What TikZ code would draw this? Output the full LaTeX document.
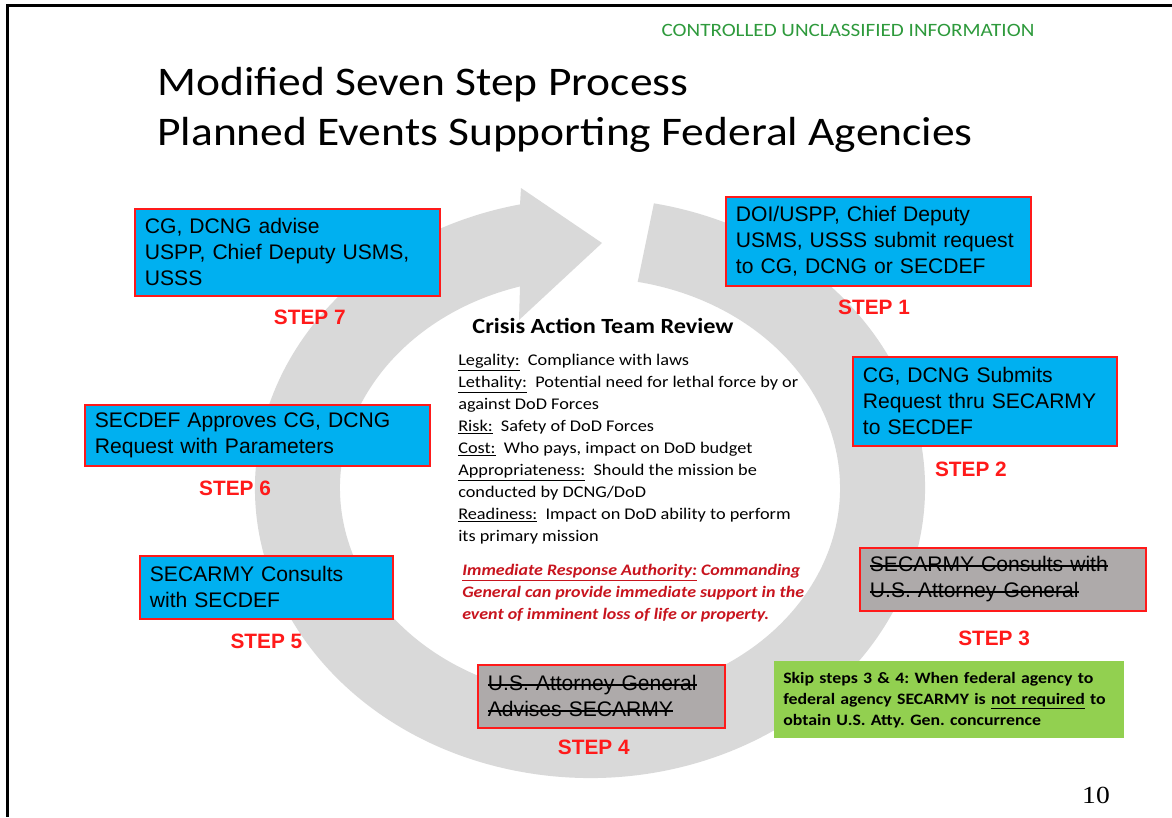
\documentclass[tikz,border=0pt]{standalone}
\usepackage{fontspec}
\setmainfont{Carlito}[FakeStretch=1.12]
\newfontfamily\arialfont{Liberation Sans}
\newfontfamily\pagenumfont{Liberation Serif}[FakeStretch=1.12]
\usepackage{tikz}
\usetikzlibrary{positioning, calc}
\definecolor{ringgray}{HTML}{D9D9D9}
\definecolor{stepblue}{HTML}{00B0F0}
\definecolor{stepred}{HTML}{FF1A1A}
\definecolor{skipgray}{HTML}{AEAAAA}
\definecolor{skipgreen}{HTML}{92D050}
\definecolor{cuigreen}{HTML}{2E9A3C}
\definecolor{iradred}{HTML}{C8141E}
\frenchspacing

% struck-out text for skipped steps
\newsavebox\strkbox
\newcommand\strk[1]{\leavevmode\sbox\strkbox{#1}\rlap{\rule[0.25em]{\wd\strkbox}{0.06em}}\usebox\strkbox}

\tikzset{
  stepbox/.style={draw=stepred, line width=1.3pt, fill=stepblue, anchor=north west, align=left,
    inner xsep=0.25cm, font=\arialfont\fontsize{15}{18.5}\selectfont},
  skipbox/.style={stepbox, fill=skipgray},
  steplabel/.style={stepred, inner sep=0pt, font=\arialfont\bfseries\fontsize{14.8}{14.8}\selectfont},
}

\begin{document}
\begin{tikzpicture}
  \useasboundingbox (0,0) rectangle (29.3,-20.425);
  \fill[white] (0,0) rectangle (29.3,-20.425);

  % Slide frame
  \draw[line width=2.2pt] (29.3,-0.14) -| (0.19,-20.425);

  % Header and title
  \node[cuigreen, font=\fontsize{13.4}{13.4}\selectfont] (cui) at (21.2,-0.75) {CONTROLLED UNCLASSIFIED INFORMATION};
  \node[anchor=base west, inner sep=0pt, font=\fontsize{28.9}{35.5}\selectfont] (titleone) at (3.925,-2.375) {Modified Seven Step Process};
  \node[anchor=base west, inner sep=0pt, font=\fontsize{28.9}{35.5}\selectfont] (titletwo) at (3.925,-3.625) {Planned Events Supporting Federal Agencies};

  % Circular arrow
  \coordinate (ringc) at (14.75,-12.2);
  \fill[ringgray] ($(ringc)+(79:8.375cm and 7.25cm)$)
    arc[start angle=79, end angle=-257.94, x radius=8.375cm, y radius=7.25cm]
    -- (13.025,-4.7) -- (15.05,-6.075) -- (12.975,-8.0)
    -- ($(ringc)+(106.26:6.25cm and 5.25cm)$)
    arc[start angle=106.26, end angle=439, x radius=6.25cm, y radius=5.25cm] -- cycle;

  % Step boxes
  \node[stepbox, text width=7.125cm, minimum height=2.225cm] (step1) at (18.125,-4.9)
    {DOI/USPP, Chief Deputy\\USMS, USSS submit request\\to CG, DCNG or SECDEF};
  \node[stepbox, text width=6.1cm, minimum height=2.225cm] (step2) at (21.3,-8.9)
    {CG, DCNG Submits\\Request thru SECARMY\\to SECDEF};
  \node[skipbox, text width=6.65cm, minimum height=1.575cm] (step3) at (21.475,-13.675)
    {\strk{SECARMY Consults with}\\\strk{U.S. Attorney General}};
  \node[skipbox, text width=5.675cm, minimum height=1.575cm] (step4) at (11.925,-16.6)
    {\strk{U.S. Attorney General}\\\strk{Advises SECARMY}};
  \node[stepbox, text width=5.825cm, minimum height=1.575cm] (step5) at (3.475,-13.875)
    {SECARMY Consults\\with SECDEF};
  \node[stepbox, text width=8.125cm, minimum height=1.525cm] (step6) at (2.1,-10.1)
    {SECDEF Approves CG, DCNG\\Request with Parameters};
  \node[stepbox, text width=7.125cm, minimum height=2.175cm] (step7) at (3.35,-5.2)
    {CG, DCNG advise\\USPP, Chief Deputy USMS,\\USSS};

  % Step labels
  \foreach \n/\dy/\dx in {1/0.31cm/-0.11cm, 2/0.38cm/-0.35cm, 3/0.48cm/-0.22cm, 4/0.28cm/-0.19cm,
                          5/0.35cm/0cm, 6/0.35cm/-0.56cm, 7/0.33cm/0.56cm} {
    \node[steplabel, below=\dy of step\n, xshift=\dx] (steplbl\n) {STEP \n};
  }

  % Review criteria in the middle
  \node[font=\bfseries\fontsize{15.4}{15.4}\selectfont] (review) at (15.075,-8.15) {Crisis Action Team Review};
  \node[anchor=north west, align=left, inner sep=0pt, font=\fontsize{11.6}{15.6}\selectfont] (criteria) at (11.45,-8.85)
    {\underline{Legality:}\ \ Compliance with laws\\
     \underline{Lethality:}\ \ Potential need for lethal force by or\\
     against DoD Forces\\
     \underline{Risk:}\ \ Safety of DoD Forces\\
     \underline{Cost:}\ \ Who pays, impact on DoD budget\\
     \underline{Appropriateness:}\ \ Should the mission be\\
     conducted by DCNG/DoD\\
     \underline{Readiness:}\ \ Impact on DoD ability to perform\\
     its primary mission};
  \node[anchor=north west, align=left, inner sep=0pt, iradred, font=\bfseries\itshape\fontsize{11.4}{15.6}\selectfont] (ira) at (11.55,-14.1)
    {\underline{Immediate Response Authority:} Commanding\\
     General can provide immediate support in the\\
     event of imminent loss of life or property.};

  % Skip note
  \node[fill=skipgreen, anchor=north west, align=left, inner xsep=0.225cm, text width=8.3cm, minimum height=1.925cm,
        font=\bfseries\fontsize{11.3}{14.9}\selectfont] (skipnote) at (19.35,-16.525)
    {Skip steps 3 \& 4: When federal agency to\\
     federal agency SECARMY is \underline{not required} to\\
     obtain U.S. Atty. Gen. concurrence};

  % Page number
  \node[font=\pagenumfont\fontsize{17.5}{17.5}\selectfont] (pagenum) at (27.4,-19.875) {10};
\end{tikzpicture}
\end{document}
